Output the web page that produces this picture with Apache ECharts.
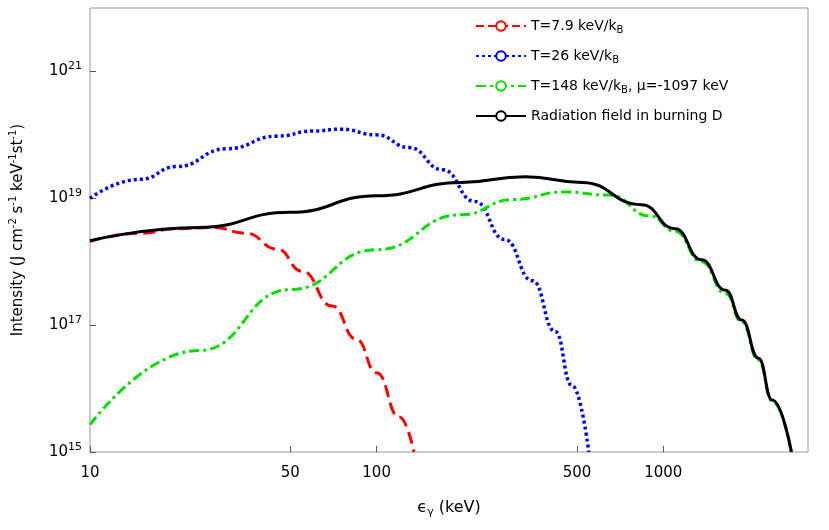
<!DOCTYPE html>
<html><head><meta charset="utf-8">
<script src="https://cdn.jsdelivr.net/npm/echarts@6/dist/echarts.min.js"></script>
<style>html,body{margin:0;padding:0;background:#fff}#c{width:829px;height:530px}</style>
</head><body><div id="c"></div>
<script>
// energy (keV) and log10(intensity)
const redX = [10,15,20,27,35,45,55,70,85,100,120,135];
const redY = [18.32,18.45,18.52,18.54,18.45,18.2,17.85,17.3,16.78,16.25,15.55,15.0];
const blueX = [10,15,20,30,45,60,75,100,130,170,220,280,350,420,480,550];
const blueY = [19.0,19.3,19.5,19.78,19.98,20.06,20.09,20.0,19.8,19.45,18.95,18.35,17.7,16.9,16.05,15.0];
const greenX = [10,24,50,100,197,300,450,650,900,1100,1360,1650,1880,2150,2400,2800];
const greenY = [15.43,16.6,17.56,18.19,18.74,18.98,19.1,19.05,18.72,18.48,18.0,17.5,17.05,16.45,15.8,15.0];
const blackX = [10,24,50,100,197,330,520,840,1100,1360,1650,1880,2150,2400,2800];
const blackY = [18.33,18.54,18.78,19.04,19.25,19.34,19.25,18.9,18.52,18.03,17.55,17.08,16.48,15.82,15.0];
const xTicks = [10,50,100,500,1000];
const yTicks = [1e15,1e17,1e19,1e21];
const names = ['T=7.9 keV/k{s|B}','T=26 keV/k{s|B}','T=148 keV/k{s|B}, μ=-1097 keV','Radiation field in burning D'];
const pts = (xs,ys)=>xs.map((x,i)=>[x,Math.pow(10,ys[i])]);
const chart = echarts.init(document.getElementById('c'));
const font = 'DejaVu Sans';
const mk = (name,data,color,type,w)=>({name,type:'line',data:pts(...data),smooth:0.5,smoothMonotone:'x',showSymbol:false,
  lineStyle:{color,type,width:w},itemStyle:{color},z:type==='solid'?3:2});
chart.setOption({
  animation:false,
  textStyle:{fontFamily:font},
  grid:{left:90,right:21,top:8,bottom:78,show:true,borderColor:'#999',borderWidth:1},
  legend:{orient:'vertical',left:470,top:14,itemWidth:50,itemHeight:12,itemGap:14,
    textStyle:{fontFamily:font,fontSize:14,color:'#000',rich:{s:{fontSize:10,padding:[8,0,0,0]}}},
    data:names},
  xAxis:{type:'log',logBase:10,min:10,max:3200,
    name:'{e|ϵ}{s|γ} (keV)',nameLocation:'middle',nameGap:45,
    nameTextStyle:{fontSize:16,color:'#000',rich:{e:{fontSize:16},s:{fontSize:11,padding:[10,0,0,0]}}},
    axisLine:{show:false},splitLine:{show:false},
    axisTick:{inside:true,length:6,customValues:xTicks,lineStyle:{color:'#555'}},
    minorTick:{show:false},
    axisLabel:{customValues:xTicks,fontSize:15,color:'#000',margin:14,formatter:v=>String(Math.round(v))}},
  yAxis:{type:'log',logBase:10,min:1e15,max:1e22,
    name:'Intensity (J cm{u|-2} s{u|-1} keV{u|-1}st{u|-1})',nameLocation:'middle',nameGap:62,
    nameTextStyle:{fontSize:15,color:'#000',rich:{u:{fontSize:10,padding:[0,0,10,0]}}},
    axisLine:{show:false},splitLine:{show:false},
    axisTick:{inside:true,length:6,customValues:yTicks,lineStyle:{color:'#555'}},
    axisLabel:{customValues:yTicks,fontSize:15,color:'#000',
      formatter:v=>'10{u|'+Math.round(Math.log10(v))+'}',
      rich:{u:{fontSize:11,padding:[0,0,10,0]}}}},
  series:[
    mk(names[0],[redX,redY],'#ff0000','dashed',3),
    mk(names[1],[blueX,blueY],'#0000ff',[3,3],3.5),
    mk(names[2],[greenX,greenY],'#00dd00',[10,4,3,4],3),
    mk(names[3],[blackX,blackY],'#000000','solid',3)
  ]
});
</script></body></html>
